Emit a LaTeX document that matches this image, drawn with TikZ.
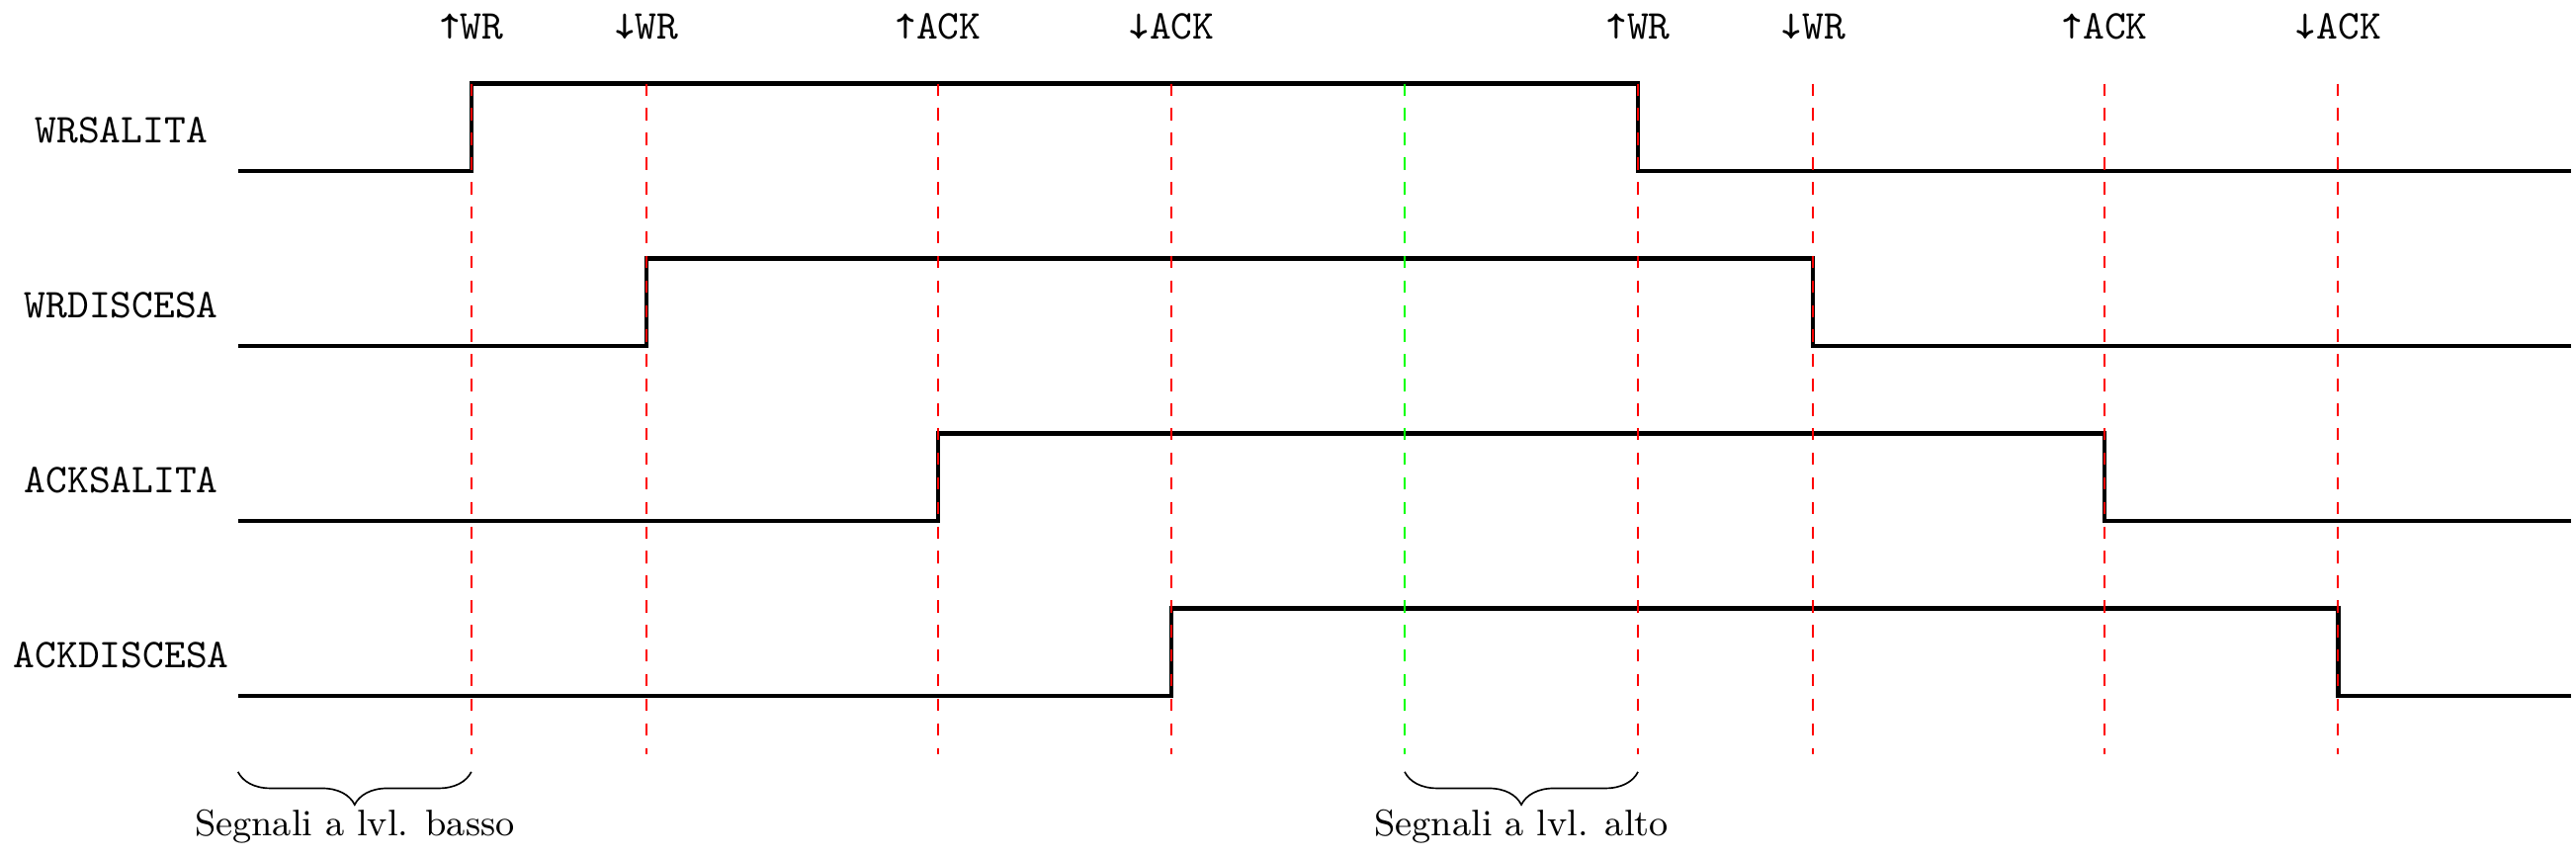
\documentclass[tikz,border=0pt]{standalone}
\usetikzlibrary{decorations.pathreplacing}
\begin{document}
\begin{tikzpicture}[
  signal/.style={line width=1.1pt, black},
  eventline/.style={red, dashed},
  midline/.style={green, dashed},
  siglabel/.style={font=\ttfamily},
  evlabel/.style={font=\ttfamily},
  bracetext/.style={font=\small},
  bracestyle/.style={decorate, decoration={brace, mirror, amplitude=8pt}},
]
\useasboundingbox (-2.04,-5.89) rectangle (20.04,1.466);

% signals
\draw[signal] (0,0) -- (2,0) -- (2,0.75) -- (12,0.75) -- (12,0) -- (20,0);
\draw[signal] (0,-1.5) -- (3.5,-1.5) -- (3.5,-0.75) -- (13.5,-0.75) -- (13.5,-1.5) -- (20,-1.5);
\draw[signal] (0,-3) -- (6,-3) -- (6,-2.25) -- (16,-2.25) -- (16,-3) -- (20,-3);
\draw[signal] (0,-4.5) -- (8,-4.5) -- (8,-3.75) -- (18,-3.75) -- (18,-4.5) -- (20,-4.5);

% signal names
\node[siglabel] (nwrs) at (-1,0.35) {WRSALITA};
\node[siglabel] (nwrd) at (-1,-1.15) {WRDISCESA};
\node[siglabel] (nacks) at (-1,-2.65) {ACKSALITA};
\node[siglabel] (nackd) at (-1,-4.15) {ACKDISCESA};

% event lines
\foreach \x in {2,3.5,6,8,12,13.5,16,18} {
  \draw[eventline] (\x,0.75) -- (\x,-5);
}
\draw[midline] (10,0.75) -- (10,-5);

% event labels
\node[evlabel] (e1) at (2,1.24) {↑WR};
\node[evlabel] (e2) at (3.5,1.24) {↓WR};
\node[evlabel] (e3) at (6,1.24) {↑ACK};
\node[evlabel] (e4) at (8,1.24) {↓ACK};
\node[evlabel] (e5) at (12,1.24) {↑WR};
\node[evlabel] (e6) at (13.5,1.24) {↓WR};
\node[evlabel] (e7) at (16,1.24) {↑ACK};
\node[evlabel] (e8) at (18,1.24) {↓ACK};

% braces
\coordinate (b1s) at (0,-5.15);
\coordinate (b1e) at (2,-5.15);
\coordinate (b2s) at (10,-5.15);
\coordinate (b2e) at (12,-5.15);
\draw[bracestyle] (b1s) -- (b1e);
\draw[bracestyle] (b2s) -- (b2e);
\node[bracetext] (lowtxt) at (1,-5.62) {Segnali a lvl. basso};
\node[bracetext] (hightxt) at (11,-5.62) {Segnali a lvl. alto};
\end{tikzpicture}
\end{document}
